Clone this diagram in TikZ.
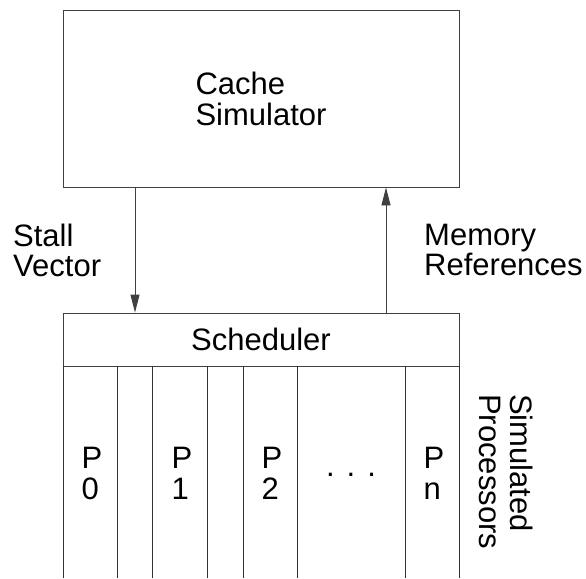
\documentclass[tikz,border=0pt]{standalone}
\usepackage{fontspec}
\setmainfont{Liberation Sans}
\usetikzlibrary{arrows.meta, positioning}

\begin{document}
\begin{tikzpicture}[x=1pt, y=-1pt,
    blk/.style={rectangle, draw=black!75, line width=0.9pt, inner sep=0pt, align=left,
      font=\fontsize{31}{31}\selectfont},
    lbl/.style={inner sep=0pt, align=left, font=\fontsize{31}{30}\selectfont},
    flow/.style={-{Triangle[length=18pt, width=9pt]}, draw=black!75, line width=0.9pt}
  ]
  \useasboundingbox (0,0) rectangle (586,578);
  \node[blk, minimum width=396pt, minimum height=177pt] (cache) at (261,98.5) {Cache\\Simulator};
  \node[blk, minimum width=396pt, minimum height=53pt] (sched) at (261,339.5) {Scheduler};
  % arrows between the two boxes
  \coordinate (sv) at (135,0);
  \coordinate (mr) at (386,0);
  \draw[flow] (cache.south -| sv) -- (sched.north -| sv);
  \draw[flow] (sched.north -| mr) -- (cache.south -| mr);
  \node[lbl, anchor=north west] (stall) at (13,224) {Stall\\Vector};
  \node[lbl, anchor=north west] (memref) at (424,224) {Memory\\References};
  % processor columns
  \foreach \x in {63,117,152,207,243,297,405,459} {
    \draw[black!80, line width=0.9pt] (\x,366) -- (\x,578);
  }
  \foreach \n/\xc/\d in {p0/92/0, p1/182/1, p2/272/2, pn/434/n} {
    \node[lbl, font=\fontsize{31}{31}\selectfont] (\n) at (\xc,473) {P\\\d};
  }
  \node[lbl, anchor=base] (dots) at (351,476) {.\hspace{12pt}.\hspace{12pt}.};
  \node[lbl, rotate=-90, anchor=north west, font=\fontsize{31}{31}\selectfont] (simproc) at (533,394) {Simulated\\Processors};
\end{tikzpicture}
\end{document}
